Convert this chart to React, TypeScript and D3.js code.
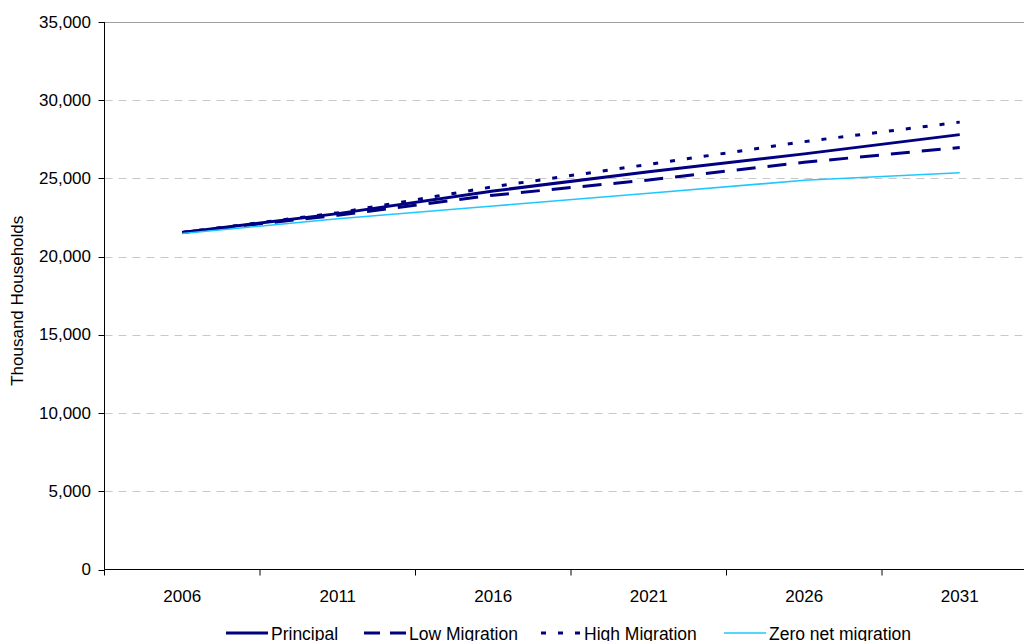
import React from "react";
import * as d3 from "d3";

const years = ["2006", "2011", "2016", "2021", "2026", "2031"];
const principal = [21550, 22750, 24200, 25420, 26570, 27800];
const lowMigration = [21550, 22650, 23930, 24900, 26030, 26980];
const highMigration = [21550, 22800, 24470, 25900, 27350, 28600];
const zeroNet = [21480, 22420, 23240, 24050, 24880, 25360];
const yTicks = [0, 5000, 10000, 15000, 20000, 25000, 30000, 35000];

const seriesNames = ["Principal", "Low Migration", "High Migration", "Zero net migration"];
const seriesValues = [principal, lowMigration, highMigration, zeroNet];

const styles = [
  { color: "#000080", width: 3, dash: "" },
  { color: "#000080", width: 3, dash: "19,12" },
  { color: "#000080", width: 3, dash: "5,12" },
  { color: "#1ec8ff", width: 1.6, dash: "" },
];

const W = 1024;
const H = 641;
const left = 104.5;
const top = 22;
const bottom = 569.5;
const bandW = 155.5;
const right = left + bandW * years.length;
const FONT = "'Liberation Sans', Arial, sans-serif";
const FS = 17;

export default function App() {
  const x = d3.scalePoint<string>().domain(years).range([left, right]).padding(0.5);
  const y = d3.scaleLinear().domain([0, 35000]).range([bottom, top]);
  const fmt = d3.format(",");
  const line = d3
    .line<number>()
    .x((_, i) => x(years[i]) as number)
    .y((d) => y(d));

  const boundaries = d3.range(years.length + 1).map((k) => left + k * bandW);

  const legendItems = [
    { x1: 226, x2: 268, tx: 271, dash: undefined },
    { x1: 364, x2: 406, tx: 409, dash: "16,10" },
    { x1: 541, x2: 580, tx: 584, dash: "5,12" },
    { x1: 724, x2: 766, tx: 769, dash: undefined },
  ];

  return (
    <svg
      width={W}
      height={H}
      style={{ position: "absolute", left: 0, top: 0, background: "#fff" }}
      fontFamily={FONT}
      fontSize={FS}
    >
      {yTicks.slice(1, -1).map((t) => (
        <line
          key={t}
          x1={left}
          x2={right}
          y1={Math.round(y(t)) + 0.5}
          y2={Math.round(y(t)) + 0.5}
          stroke="#c8c8c8"
          strokeWidth={1}
          strokeDasharray="8,6"
        />
      ))}
      <line x1={left} x2={right} y1={top + 0.5} y2={top + 0.5} stroke="#a0a0a0" strokeWidth={1} />
      <line x1={left} x2={left} y1={top} y2={bottom} stroke="#000" strokeWidth={1} />
      <line x1={left} x2={right} y1={bottom} y2={bottom} stroke="#000" strokeWidth={1} />
      {yTicks.map((t) => (
        <g key={t}>
          <line
            x1={left - 6}
            x2={left}
            y1={Math.round(y(t)) + 0.5}
            y2={Math.round(y(t)) + 0.5}
            stroke="#000"
          />
          <text x={91} y={y(t)} textAnchor="end" dominantBaseline="central" fill="#000">
            {fmt(t)}
          </text>
        </g>
      ))}
      {boundaries.map((b, i) => (
        <line key={i} x1={b} x2={b} y1={bottom} y2={bottom + 6} stroke="#000" />
      ))}
      {years.map((yr) => (
        <text key={yr} x={x(yr)} y={602} textAnchor="middle" fill="#000">
          {yr}
        </text>
      ))}
      <text
        transform={`translate(23, ${(top + bottom) / 2 + 5}) rotate(-90)`}
        textAnchor="middle"
        fill="#000"
      >
        Thousand Households
      </text>
      {seriesValues.map((vals, i) => (
        <path
          key={seriesNames[i]}
          d={line(vals) || ""}
          fill="none"
          stroke={styles[i].color}
          strokeWidth={styles[i].width}
          strokeDasharray={styles[i].dash || undefined}
        />
      ))}
      {seriesNames.map((name, i) => (
        <g key={name}>
          <line
            x1={legendItems[i].x1}
            x2={legendItems[i].x2}
            y1={633}
            y2={633}
            stroke={styles[i].color}
            strokeWidth={styles[i].width}
            strokeDasharray={legendItems[i].dash}
          />
          <text x={legendItems[i].tx} y={640} fill="#000" fontSize={17.5}>
            {name}
          </text>
        </g>
      ))}
    </svg>
  );
}
